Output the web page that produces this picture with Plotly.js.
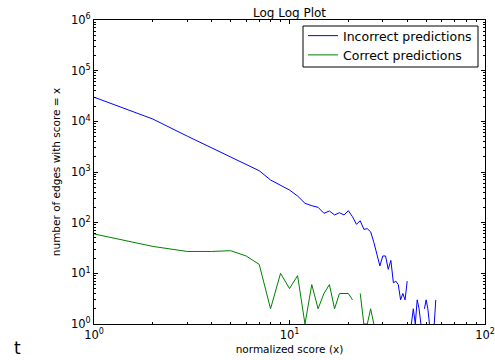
<!DOCTYPE html>
<html>
<head>
<meta charset="utf-8">
<script src="https://cdn.plot.ly/plotly-3.0.1.min.js"></script>
<style>
html,body{margin:0;padding:0;background:#fff;}
#chart{width:495px;height:360px;}
</style>
</head>
<body>
<div id="chart"></div>
<script>
// normalized score (x) values
const scores = [1,2,3,4,5,6,7,8,9,10,11,12,13,14,15,16,17,18,19,20,
  21,22,23,24,25,26,27,28,29,30,31,32,33,34,35,36,37,38,39,40,
  41,42,43,44,45,46,47,48,49,50,51,52,53,54,55,56];
// number of edges (0 = none, not drawn on a log axis)
const incorrect = [30000,11100,5100,3000,1950,1380,1060,695,554,441,
  336,241,216,201,153,170,142,157,142,172,
  131,93,109,74,76,66,41,24,14,22,22,12,18,6.5,7,6,3,4,3,7,
  0,1,2,1,3,2,1,0,2,3,2,1,0,0,1,3];
const correct = [60,34,27,27,28,22,15,2,10,5,
  9,1,6,2,4,6,2,4,4,4,
  3,0,4,1,1,2,1,0,0,0,0,0,0,0,0,0,0,0,0,0,
  0,0,0,0,0,0,0,0,0,0,0,0,0,0,0,0];
const yTickVals = [1,10,100,1000,10000,100000,1000000];
const yTickText = ['10<sup>0</sup>','10<sup>1</sup>','10<sup>2</sup>','10<sup>3</sup>','10<sup>4</sup>','10<sup>5</sup>','10<sup>6</sup>'];
const xTickVals = [1,10,100];
const xTickText = ['10<sup>0</sup>','10<sup>1</sup>','10<sup>2</sup>'];

function minorVals(lo, hi){
  const out=[];
  for(let d=lo; d<hi; d*=10){ for(let k=2;k<=9;k++) out.push(d*k); }
  return out;
}
const toLog = a => a.map(v => v > 0 ? v : null);

const traces = [
  {x: scores, y: toLog(incorrect), type:'scatter', mode:'lines', name:'Incorrect predictions',
   line:{color:'#0000ff', width:1}, connectgaps:false},
  {x: scores, y: toLog(correct), type:'scatter', mode:'lines', name:'Correct predictions',
   line:{color:'#008000', width:1}, connectgaps:false}
];

const W = 495, H = 360, L = 94, R = 10, T = 20, B = 36;
const pw = W - L - R, ph = H - T - B;
const px = x => (x - L) / pw;
const py = y => 1 - (y - T) / ph;

const font = {family:'DejaVu Sans, sans-serif', color:'#000'};
const axisCommon = {
  type:'log', showgrid:false, zeroline:false, showline:true, linecolor:'#000', linewidth:1,
  mirror:'allticks', ticks:'inside', ticklen:4, tickwidth:1, tickcolor:'#000',
  tickfont:{family:font.family, size:11.5, color:'#000'}, automargin:false, fixedrange:true
};
const layout = {
  width:W, height:H,
  margin:{l:L, r:R, t:T, b:B, pad:0},
  paper_bgcolor:'#fff', plot_bgcolor:'#fff',
  font: font,
  showlegend:true,
  title:{text:'Log Log Plot', font:{family:font.family, size:12, color:'#000'},
    x:0.5, xref:'paper', xanchor:'center', y:1, yref:'paper', yanchor:'bottom', pad:{b:3}},
  xaxis: Object.assign({}, axisCommon, {
    range:[0,2], tickmode:'array', tickvals:xTickVals, ticktext:xTickText,
    minor:{tickmode:'array', tickvals:minorVals(1,100), ticks:'inside', ticklen:2, tickcolor:'#000', showgrid:false},
    title:{text:'normalized score (x)', font:{family:font.family, size:10.5, color:'#000'}, standoff:4}
  }),
  yaxis: Object.assign({}, axisCommon, {
    range:[0,6], tickmode:'array', tickvals:yTickVals, ticktext:yTickText,
    minor:{tickmode:'array', tickvals:minorVals(1,1000000), ticks:'inside', ticklen:2, tickcolor:'#000', showgrid:false},
    title:{text:'number of edges with score = x', font:{family:font.family, size:10.5, color:'#000'}, standoff:8}
  }),
  legend:{x:px(303), y:py(21), xanchor:'left', yanchor:'top', borderwidth:0,
    bgcolor:'rgba(0,0,0,0)', font:{family:font.family, size:12.5, color:'#000'}, tracegroupgap:0},
  shapes:[
    {type:'rect', xref:'paper', yref:'paper', x0:px(303), x1:px(478), y0:py(67), y1:py(26),
     line:{color:'#000', width:1}, fillcolor:'#fff', layer:'above'}
  ],
  annotations:[
    {text:'t', xref:'paper', yref:'paper', x:px(13), y:py(348), showarrow:false, borderpad:0,
     font:{family:font.family, size:17, color:'#000'}, xanchor:'left', yanchor:'middle'}
  ]
};
Plotly.newPlot('chart', traces, layout, {staticPlot:true, displayModeBar:false});
</script>
</body>
</html>
